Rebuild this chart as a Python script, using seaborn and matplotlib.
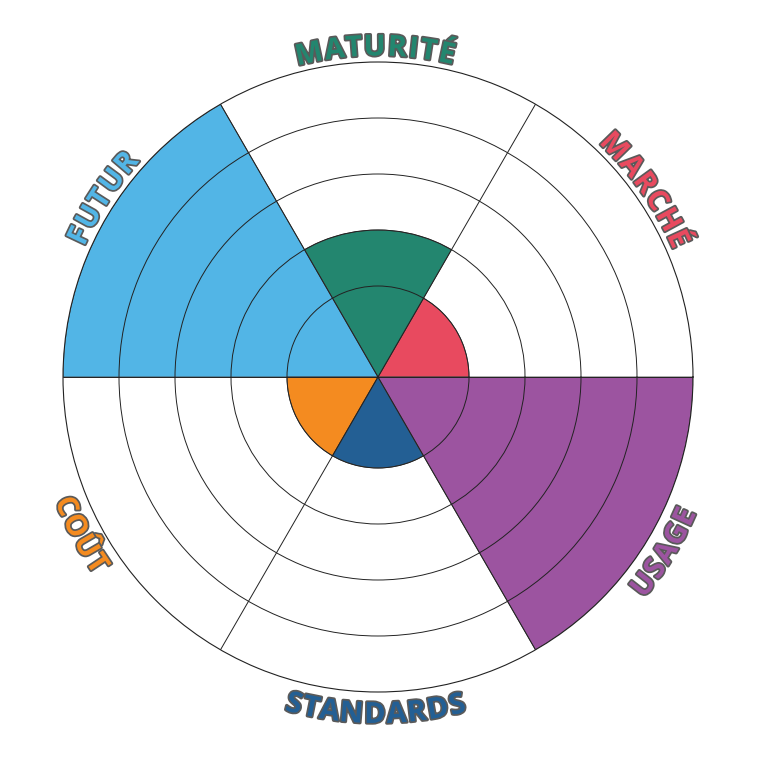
import numpy as np
import pandas as pd
import matplotlib
matplotlib.use("Agg")
import matplotlib.pyplot as plt
import matplotlib.patheffects as pe
import seaborn as sns

# ---- data (sectors counter-clockwise starting at 0° = east) ----
categories = ["MARCHÉ", "MATURITÉ", "FUTUR", "COÛT", "STANDARDS", "USAGE"]
values = [1, 2, 5, 1, 1, 5]
colors = ["#E84A5F", "#23866F", "#52B5E6", "#F48B20", "#235F94", "#9C54A0"]
ring_levels = [1, 2, 3, 4]
label_offsets_deg = [5, 0.5, -3, -2, -0.4, -1.5]

sns.set_theme(style="white")
plt.rcParams["font.family"] = ["Open Sans", "DejaVu Sans"]

W = 757
fig = plt.figure(figsize=(W / 100, W / 100), dpi=100)
fig.patch.set_facecolor("white")
R_PX = 315
ax = fig.add_axes([(378 - R_PX) / W, (380 - R_PX) / W, 2 * R_PX / W, 2 * R_PX / W],
                  projection="polar")
ax.set_facecolor("white")

r_min, r_max = -0.625, 5
n = len(categories)
sector = 2 * np.pi / n
theta = [sector * (i + 0.5) for i in range(n)]
df = pd.DataFrame({"theta": theta,
                   "height": [v - r_min for v in values],
                   "category": categories})

sns.barplot(data=df, x="theta", y="height", hue="category",
            palette=dict(zip(categories, colors)), native_scale=True,
            width=1.0, dodge=False, bottom=r_min, errorbar=None, saturation=1,
            edgecolor="#444444", linewidth=0.6, legend=False, ax=ax)

ax.set_ylim(r_min, r_max)
ax.set_yticks(ring_levels)
ax.set_yticklabels([])
ax.set_xticks(np.deg2rad(np.arange(0, 360, 60)))
ax.set_xticklabels([])
ax.set_xlabel("")
ax.set_ylabel("")
ax.grid(True, color="#222222", linewidth=0.7)
ax.set_axisbelow(False)
ax.spines["polar"].set_color("#222222")
ax.spines["polar"].set_linewidth(0.8)

# ---- curved labels ----
FS = 21
WEIGHT = "bold"
TRACK = 1.5  # extra px between letters
renderer = fig.canvas.get_renderer()
px_per_unit = R_PX / (r_max - r_min)


def text_width(s):
    if not s:
        return 0.0
    t = fig.text(0, 0, s, fontsize=FS, fontweight=WEIGHT)
    w = t.get_window_extent(renderer).width
    t.remove()
    return w


def curved_label(label, center_deg, color):
    top = 0 < (center_deg % 360) < 180
    r_base_px = 321.5 if top else 346
    prefix = [text_width(label[:k]) + TRACK * k for k in range(len(label) + 1)]
    total = prefix[-1] - TRACK
    for k, ch in enumerate(label):
        s = (prefix[k] + prefix[k + 1] - TRACK) / 2 - total / 2
        dth = np.rad2deg(s / r_base_px)
        if top:
            th = center_deg - dth
            rot = th - 90
        else:
            th = center_deg + dth
            rot = th + 90
        ax.text(np.deg2rad(th), r_min + r_base_px / px_per_unit, ch,
                rotation=rot, rotation_mode="anchor", ha="center", va="baseline",
                fontsize=FS, fontweight=WEIGHT, color=color, clip_on=False,
                path_effects=[pe.withStroke(linewidth=2.5, foreground="#5a5a5a")])


for lab, th, col, off in zip(categories, theta, colors, label_offsets_deg):
    curved_label(lab, np.rad2deg(th) + off, col)

fig.savefig("out.png", dpi=100, facecolor="white")
